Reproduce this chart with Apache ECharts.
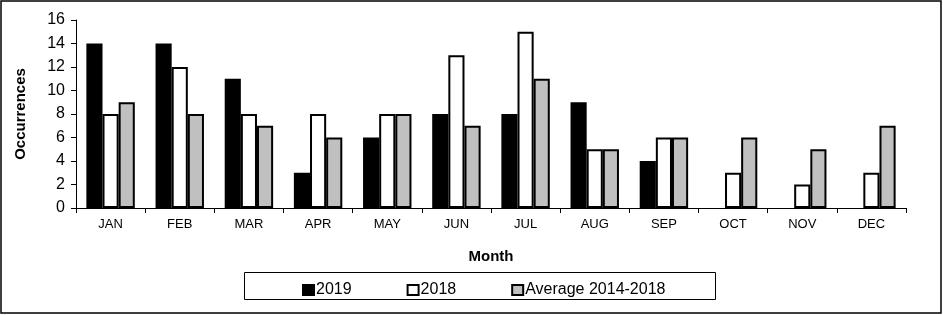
<!DOCTYPE html>
<html>
<head>
<meta charset="utf-8">
<script src="https://cdn.jsdelivr.net/npm/echarts@6/dist/echarts.min.js"></script>
<style>
  html, body { margin: 0; padding: 0; background: #fff; }
  #chart { width: 943px; height: 315px; }
</style>
</head>
<body>
<div id="chart"></div>
<script>
const months = ['JAN', 'FEB', 'MAR', 'APR', 'MAY', 'JUN', 'JUL', 'AUG', 'SEP', 'OCT', 'NOV', 'DEC']
const y2019 = [14, 14, 11, 3, 6, 8, 8, 9, 4, 0, 0, 0]
const y2018 = [8, 12, 8, 8, 8, 13, 15, 5, 6, 3, 2, 3]
const avg = [9, 8, 7, 6, 8, 7, 11, 5, 6, 6, 5, 7]

const font = 'Liberation Sans, Arial, sans-serif'
const chart = echarts.init(document.getElementById('chart'))

// zero-height bars draw nothing in the original, so skip them
function barSeries(name, data, color) {
  return {
    name,
    type: 'bar',
    data: data.map(v => (v === 0 ? '-' : v)),
    barGap: '0%',
    barCategoryGap: '30%',
    itemStyle: { color, borderColor: '#000', borderWidth: 2 },
  }
}

chart.setOption({
  animation: false,
  backgroundColor: '#fff',
  textStyle: { fontFamily: font },
  graphic: [
    {
      type: 'rect',
      shape: { x: 1, y: 1, width: 940, height: 312 },
      style: { fill: 'none', stroke: '#000', lineWidth: 1.5 },
    },
    {
      type: 'rect',
      shape: { x: 244.5, y: 272.5, width: 471, height: 27 },
      style: { fill: 'none', stroke: '#000', lineWidth: 1 },
    },
  ],
  legend: {
    left: 297,
    top: 277,
    itemWidth: 11,
    itemHeight: 10,
    itemGap: 55,
    icon: 'rect',
    textStyle: { fontSize: 16, color: '#000', fontFamily: font, padding: [0, 0, 0, -3] },
    data: ['2019', '2018', 'Average 2014-2018'],
  },
  grid: { left: 76, right: 37, top: 20, bottom: 107 },
  xAxis: {
    type: 'category',
    data: months,
    name: 'Month',
    nameLocation: 'middle',
    nameGap: 41,
    nameTextStyle: { fontSize: 15, fontWeight: 'bold', color: '#000', fontFamily: font },
    axisLine: { lineStyle: { color: '#000', width: 1 } },
    axisTick: { show: true, length: 5, lineStyle: { color: '#000' } },
    axisLabel: { fontSize: 13, color: '#000', margin: 10, fontFamily: font },
  },
  yAxis: {
    type: 'value',
    min: 0,
    max: 16,
    interval: 2,
    name: 'Occurrences',
    nameLocation: 'middle',
    nameGap: 48,
    nameTextStyle: { fontSize: 15, fontWeight: 'bold', color: '#000', fontFamily: font },
    axisLine: { show: true, lineStyle: { color: '#000', width: 1 } },
    axisTick: { show: true, length: 5, lineStyle: { color: '#000' } },
    axisLabel: { fontSize: 16, color: '#000', margin: 11, fontFamily: font },
    splitLine: { show: false },
  },
  series: [
    barSeries('2019', y2019, '#000'),
    barSeries('2018', y2018, '#fff'),
    barSeries('Average 2014-2018', avg, '#c0c0c0'),
  ],
})
</script>
</body>
</html>
